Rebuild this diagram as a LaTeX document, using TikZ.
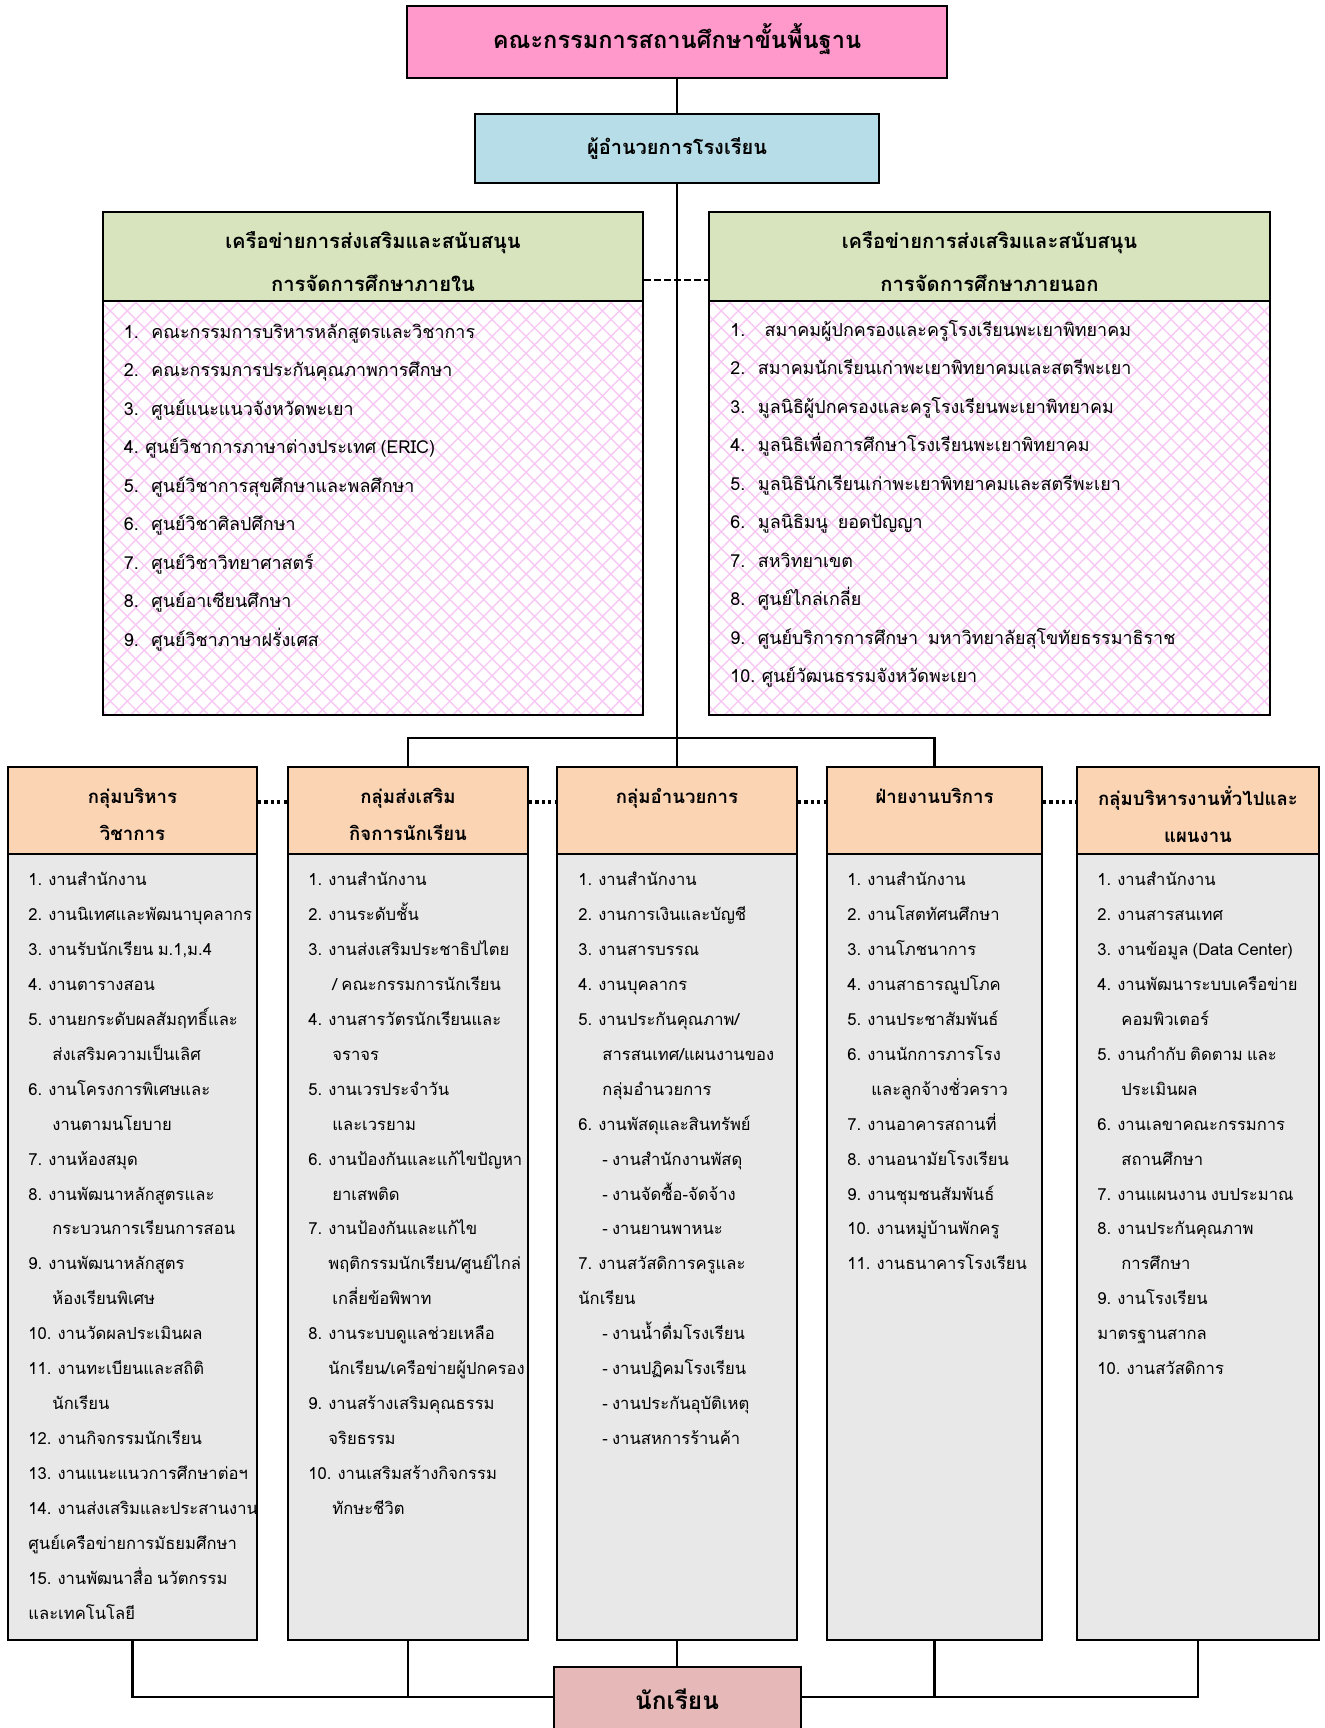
\documentclass[tikz,border=0pt]{standalone}
\usepackage{fontspec}
\setmainfont[Script=Thai,WordSpace=0.75]{Loma}
\usetikzlibrary{patterns.meta}
\definecolor{titlepink}{RGB}{255,153,204}
\definecolor{dirblue}{RGB}{183,222,232}
\definecolor{netgreen}{RGB}{215,228,189}
\definecolor{grporange}{RGB}{251,212,180}
\definecolor{bodygray}{RGB}{232,232,232}
\definecolor{stupink}{RGB}{230,185,184}
\definecolor{hatchpink}{RGB}{248,200,245}
\newcommand\colfont{\fontsize{8.3}{17.48}\selectfont}
\newcommand\netfont{\fontsize{8.95}{19.25}\selectfont}
\newcommand\ind{\hspace*{12pt}}
\newcommand\indb{\hspace*{10pt}}
\newcommand\nb[1]{\makebox[13.8pt][l]{#1}}
\begin{document}
\begin{tikzpicture}[x=0.5pt,y=-0.5pt,
  box/.style={draw=black, line width=1pt, inner sep=0pt, rectangle},
  conn/.style={line width=1.1pt},
  dotconn/.style={line width=1.6pt, dash pattern=on 1.6pt off 1.6pt},
  dashconn/.style={line width=1.4pt, dash pattern=on 3.5pt off 1.5pt},
  listtext/.style={anchor=north west, inner sep=0pt, align=left},
  grphead/.style={box, fill=grporange, minimum height=43.5pt},
  grptext/.style={inner sep=0pt, align=center, font=\bfseries\fontsize{9.3}{18.7}\selectfont},
  grpbody/.style={box, fill=bodygray, minimum height=393pt},
  nethead/.style={box, fill=netgreen, minimum height=44.5pt},
  nettext/.style={inner sep=0pt, align=center, font=\bfseries\fontsize{10.1}{21.5}\selectfont},
  netbody/.style={box, minimum height=207pt,
    pattern={Hatch[angle=45,distance=6pt,line width=0.7pt]}, pattern color=hatchpink}
]
\fill[white] (0,0) rectangle (1325,1728);
\useasboundingbox (0,0) rectangle (1325,1728);

% top boxes
\node[box, fill=titlepink, minimum width=270pt, minimum height=36pt] (board) at (677,42) {};
\node[inner sep=0pt, font=\bfseries\fontsize{11.8}{15}\selectfont] (boardt) at (677,39)
  {คณะกรรมการสถานศึกษาขั้นพื้นฐาน};
\node[box, fill=dirblue, minimum width=202pt, minimum height=34.5pt,
  font=\bfseries\fontsize{10}{14}\selectfont] (dir) at (677,148.5)
  {ผู้อำนวยการโรงเรียน};

% network boxes
\node[nethead, minimum width=270pt] (netin) at (373,256.5) {};
\node[nettext] (netint) at (373,262) {เครือข่ายการส่งเสริมและสนับสนุน\\การจัดการศึกษาภายใน};
\node[netbody, minimum width=270pt] (netinb) at (373,508) {};
\node[nethead, minimum width=280.5pt] (netout) at (989.5,256.5) {};
\node[nettext] (netoutt) at (989.5,262) {เครือข่ายการส่งเสริมและสนับสนุน\\การจัดการศึกษาภายนอก};
\node[netbody, minimum width=280.5pt] (netoutb) at (989.5,508) {};

\node[listtext, font=\netfont] (netinl) at (123.5,311) {\strut\nb{1.}คณะกรรมการบริหารหลักสูตรและวิชาการ\\
\nb{2.}คณะกรรมการประกันคุณภาพการศึกษา\\
\nb{3.}ศูนย์แนะแนวจังหวัดพะเยา\\
4. ศูนย์วิชาการภาษาต่างประเทศ (ERIC)\\
\nb{5.}ศูนย์วิชาการสุขศึกษาและพลศึกษา\\
\nb{6.}ศูนย์วิชาศิลปศึกษา\\
\nb{7.}ศูนย์วิชาวิทยาศาสตร์\\
\nb{8.}ศูนย์อาเซียนศึกษา\\
\nb{9.}ศูนย์วิชาภาษาฝรั่งเศส};

\node[listtext, font=\netfont] (netoutl) at (730,309) {\strut\nb{1.}\hspace{3.3pt}สมาคมผู้ปกครองและครูโรงเรียนพะเยาพิทยาคม\\
\nb{2.}สมาคมนักเรียนเก่าพะเยาพิทยาคมและสตรีพะเยา\\
\nb{3.}มูลนิธิผู้ปกครองและครูโรงเรียนพะเยาพิทยาคม\\
\nb{4.}มูลนิธิเพื่อการศึกษาโรงเรียนพะเยาพิทยาคม\\
\nb{5.}มูลนิธินักเรียนเก่าพะเยาพิทยาคมและสตรีพะเยา\\
\nb{6.}มูลนิธิมนู\hspace{5pt}ยอดปัญญา\\
\nb{7.}สหวิทยาเขต\\
\nb{8.}ศูนย์ไกล่เกลี่ย\\
\nb{9.}ศูนย์บริการการศึกษา\hspace{5pt}มหาวิทยาลัยสุโขทัยธรรมาธิราช\\
10. ศูนย์วัฒนธรรมจังหวัดพะเยา};

% group columns
\node[grphead, minimum width=124.5pt] (h1) at (132.5,810.5) {};
\node[grphead, minimum width=120pt] (h2) at (408,810.5) {};
\node[grphead, minimum width=120pt] (h3) at (677,810.5) {};
\node[grphead, minimum width=107.5pt] (h4) at (934.5,810.5) {};
\node[grphead, minimum width=121pt] (h5) at (1198,810.5) {};
\node[grptext] (h1t) at (132.5,814.5) {กลุ่มบริหาร\\วิชาการ};
\node[grptext] (h2t) at (408,814.5) {กลุ่มส่งเสริม\\กิจการนักเรียน};
\node[grptext] (h3t) at (677,814.5) {กลุ่มอำนวยการ\\\phantom{ก}};
\node[grptext] (h4t) at (934.5,814.5) {ฝ่ายงานบริการ\\\phantom{ก}};
\node[grptext] (h5t) at (1198,814.5) {กลุ่มบริหารงานทั่วไปและ\\แผนงาน};

\node[grpbody, minimum width=124.5pt] (b1) at (132.5,1247) {};
\node[grpbody, minimum width=120pt] (b2) at (408,1247) {};
\node[grpbody, minimum width=120pt] (b3) at (677,1247) {};
\node[grpbody, minimum width=107.5pt] (b4) at (934.5,1247) {};
\node[grpbody, minimum width=121pt] (b5) at (1198,1247) {};

\node[listtext, font=\colfont] (l1) at (28,860.5) {\strut 1. งานสำนักงาน\\
2. งานนิเทศและพัฒนาบุคลากร\\
3. งานรับนักเรียน ม.1,ม.4\\
4. งานตารางสอน\\
5. งานยกระดับผลสัมฤทธิ์และ\\
\ind ส่งเสริมความเป็นเลิศ\\
6. งานโครงการพิเศษและ\\
\ind งานตามนโยบาย\\
7. งานห้องสมุด\\
8. งานพัฒนาหลักสูตรและ\\
\ind กระบวนการเรียนการสอน\\
9. งานพัฒนาหลักสูตร\\
\ind ห้องเรียนพิเศษ\\
10. งานวัดผลประเมินผล\\
11. งานทะเบียนและสถิติ\\
\ind นักเรียน\\
12. งานกิจกรรมนักเรียน\\
13. งานแนะแนวการศึกษาต่อฯ\\
14. งานส่งเสริมและประสานงาน\\
ศูนย์เครือข่ายการมัธยมศึกษา\\
15. งานพัฒนาสื่อ นวัตกรรม\\
และเทคโนโลยี};

\node[listtext, font=\colfont] (l2) at (308,860.5) {\strut 1. งานสำนักงาน\\
2. งานระดับชั้น\\
3. งานส่งเสริมประชาธิปไตย\\
\ind / คณะกรรมการนักเรียน\\
4. งานสารวัตรนักเรียนและ\\
\ind จราจร\\
5. งานเวรประจำวัน\\
\ind และเวรยาม\\
6. งานป้องกันและแก้ไขปัญหา\\
\ind ยาเสพติด\\
7. งานป้องกันและแก้ไข\\
\indb พฤติกรรมนักเรียน/ศูนย์ไกล่\\
\ind เกลี่ยข้อพิพาท\\
8. งานระบบดูแลช่วยเหลือ\\
\indb นักเรียน/เครือข่ายผู้ปกครอง\\
9. งานสร้างเสริมคุณธรรม\\
\indb จริยธรรม\\
10. งานเสริมสร้างกิจกรรม\\
\ind ทักษะชีวิต};

\node[listtext, font=\colfont] (l3) at (578,860.5) {\strut 1. งานสำนักงาน\\
2. งานการเงินและบัญชี\\
3. งานสารบรรณ\\
4. งานบุคลากร\\
5. งานประกันคุณภาพ/\\
\ind สารสนเทศ/แผนงานของ\\
\ind กลุ่มอำนวยการ\\
6. งานพัสดุและสินทรัพย์\\
\ind - งานสำนักงานพัสดุ\\
\ind - งานจัดซื้อ-จัดจ้าง\\
\ind - งานยานพาหนะ\\
7. งานสวัสดิการครูและ\\
นักเรียน\\
\ind - งานน้ำดื่มโรงเรียน\\
\ind - งานปฏิคมโรงเรียน\\
\ind - งานประกันอุบัติเหตุ\\
\ind - งานสหการร้านค้า};

\node[listtext, font=\colfont] (l4) at (847,860.5) {\strut 1. งานสำนักงาน\\
2. งานโสตทัศนศึกษา\\
3. งานโภชนาการ\\
4. งานสาธารณูปโภค\\
5. งานประชาสัมพันธ์\\
6. งานนักการภารโรง\\
\ind และลูกจ้างชั่วคราว\\
7. งานอาคารสถานที่\\
8. งานอนามัยโรงเรียน\\
9. งานชุมชนสัมพันธ์\\
10. งานหมู่บ้านพักครู\\
11. งานธนาคารโรงเรียน};

\node[listtext, font=\colfont] (l5) at (1097,860.5) {\strut 1. งานสำนักงาน\\
2. งานสารสนเทศ\\
3. งานข้อมูล (Data Center)\\
4. งานพัฒนาระบบเครือข่าย\\
\ind คอมพิวเตอร์\\
5. งานกำกับ ติดตาม และ\\
\ind ประเมินผล\\
6. งานเลขาคณะกรรมการ\\
\ind สถานศึกษา\\
7. งานแผนงาน งบประมาณ\\
8. งานประกันคุณภาพ\\
\ind การศึกษา\\
9. งานโรงเรียน\\
มาตรฐานสากล\\
10. งานสวัสดิการ};

% students
\node[box, fill=stupink, minimum width=123.5pt, minimum height=36pt] (stu) at (677,1703) {};
\node[inner sep=0pt, font=\bfseries\fontsize{12.2}{16}\selectfont] (stut) at (677,1699) {นักเรียน};

% connectors
\coordinate (bar) at (677,738);
\coordinate (dashy) at (0,280);
\coordinate (doty) at (0,802);
\coordinate (boty) at (0,1697);
\draw[conn] (board.south) -- (dir.north);
\draw[conn] (dir.south) -- (h3.north);
\draw[conn] (h2.north) |- (bar) -| (h4.north);
\draw[dashconn] (netin.east |- dashy) -- (netout.west |- dashy);
\draw[dotconn] (h1.east |- doty) -- (h2.west |- doty);
\draw[dotconn] (h2.east |- doty) -- (h3.west |- doty);
\draw[dotconn] (h3.east |- doty) -- (h4.west |- doty);
\draw[dotconn] (h4.east |- doty) -- (h5.west |- doty);
\draw[conn] (b1.south) |- (stu.west |- boty);
\draw[conn] (b2.south) -- (b2.south |- boty);
\draw[conn] (b3.south) -- (stu.north);
\draw[conn] (b4.south) -- (b4.south |- boty);
\draw[conn] (b5.south) |- (stu.east |- boty);
\end{tikzpicture}
\end{document}
